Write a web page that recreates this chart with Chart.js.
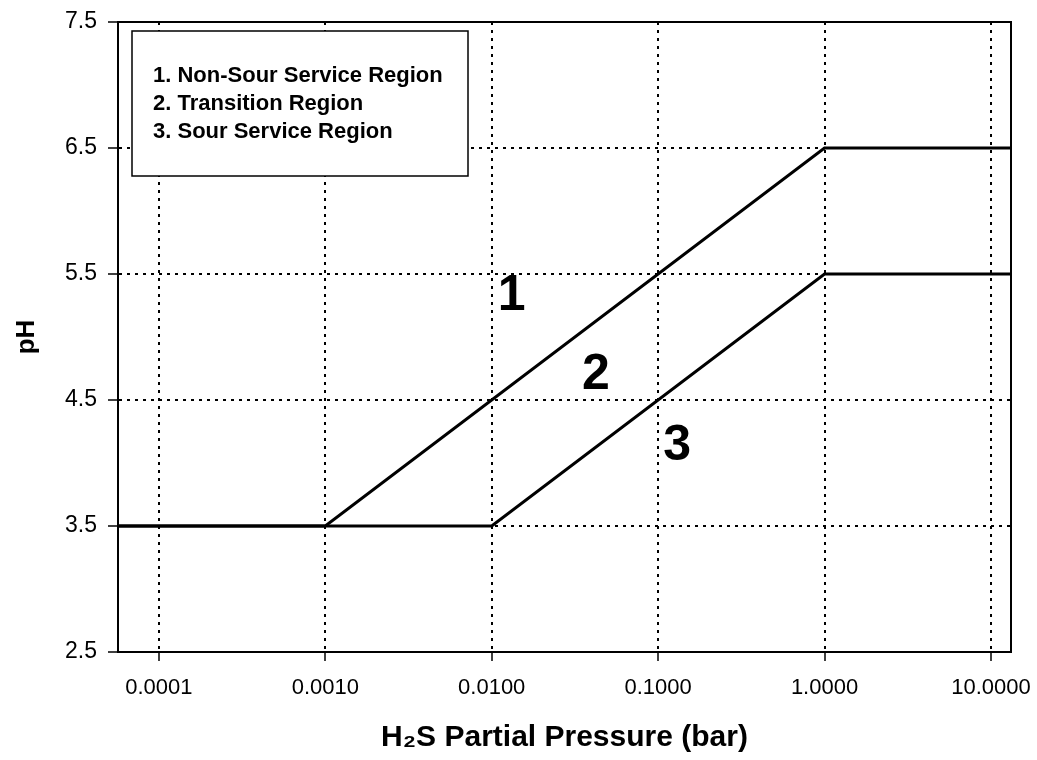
<!DOCTYPE html>
<html>
<head>
<meta charset="utf-8">
<script src="https://cdn.jsdelivr.net/npm/chart.js@4.4.1/dist/chart.umd.min.js"></script>
<style>
  html, body { margin: 0; padding: 0; background: #fff; }
  #wrap { width: 1037px; height: 760px; }
</style>
</head>
<body>
<div id="wrap"><canvas id="chart" width="1037" height="760"></canvas></div>
<script>
// axis range and ticks
const xMin = 0.0000568;
const xMax = 13.2;
const xTicks = [0.0001, 0.001, 0.01, 0.1, 1, 10];
const yTicks = [2.5, 3.5, 4.5, 5.5, 6.5, 7.5];

// boundary lines (H2S partial pressure in bar, pH)
const upperX = [xMin, 0.001, 1, xMax];
const upperY = [3.5, 3.5, 6.5, 6.5];
const lowerX = [xMin, 0.01, 1, xMax];
const lowerY = [3.5, 3.5, 5.5, 5.5];

// region labels
const regionNames = ["1. Non-Sour Service Region", "2. Transition Region", "3. Sour Service Region"];
const regionMarks = ["1", "2", "3"];
const regionMarkX = [0.0132, 0.0423, 0.130];
const regionMarkY = [5.32, 4.70, 4.13];

const FONT = "'Liberation Sans', Arial, sans-serif";

const toPoints = (xs, ys) => xs.map((x, i) => ({ x: x, y: ys[i] }));

const overlay = {
    id: "overlay",
    afterDraw(chart) {
        const ctx = chart.ctx;
        const a = chart.chartArea;
        const xs = chart.scales.x, ys = chart.scales.y;
        ctx.save();
        // frame top / right
        ctx.strokeStyle = "#000";
        ctx.lineWidth = 2;
        ctx.beginPath();
        ctx.moveTo(a.left, a.top);
        ctx.lineTo(a.right, a.top);
        ctx.lineTo(a.right, a.bottom);
        ctx.stroke();

        // legend box
        const bx = a.left + 14, by = a.top + 9, bw = 336, bh = 145;
        ctx.fillStyle = "#fff";
        ctx.fillRect(bx, by, bw, bh);
        ctx.lineWidth = 1.5;
        ctx.strokeRect(bx, by, bw, bh);
        ctx.fillStyle = "#000";
        ctx.font = "bold 22px " + FONT;
        ctx.textBaseline = "middle";
        ctx.textAlign = "left";
        regionNames.forEach((t, i) => ctx.fillText(t, bx + 21, by + 45 + i * 28));

        // numbers in the regions
        ctx.font = "bold 50px " + FONT;
        ctx.textAlign = "center";
        regionMarks.forEach((t, i) => {
            ctx.fillText(t, xs.getPixelForValue(regionMarkX[i]), ys.getPixelForValue(regionMarkY[i]));
        });
        ctx.restore();
    }
};

const lineStyle = {
    borderColor: "#000",
    borderWidth: 3,
    pointRadius: 0,
    showLine: true,
    fill: false,
    tension: 0
};

new Chart(document.getElementById("chart").getContext("2d"), {
    type: "scatter",
    data: {
        datasets: [
            Object.assign({ label: "upper", data: toPoints(upperX, upperY) }, lineStyle),
            Object.assign({ label: "lower", data: toPoints(lowerX, lowerY) }, lineStyle)
        ]
    },
    options: {
        responsive: false,
        animation: false,
        layout: { padding: { top: 22, right: 26, left: 0, bottom: 0 } },
        plugins: { legend: { display: false }, tooltip: { enabled: false } },
        scales: {
            x: {
                type: "logarithmic",
                min: xMin,
                max: xMax,
                afterBuildTicks: (s) => { s.ticks = xTicks.map(v => ({ value: v })); },
                afterFit: (s) => { s.height = 108; s.paddingLeft = 0; s.paddingRight = 0; },
                ticks: {
                    color: "#000",
                    autoSkip: false,
                    maxRotation: 0,
                    padding: 14,
                    font: { family: FONT, size: 22 },
                    callback: (v) => Number(v).toFixed(4)
                },
                grid: { color: "#000", lineWidth: 2, tickLength: 9, tickColor: "#000", tickWidth: 1.5 },
                border: { display: true, color: "#000", width: 2, dash: [3, 5] },
                title: {
                    display: true,
                    text: "H\u2082S Partial Pressure (bar)",
                    color: "#000",
                    font: { family: FONT, size: 30, weight: "bold" },
                    padding: { top: 10, bottom: 4 }
                }
            },
            y: {
                min: 2.5,
                max: 7.5,
                afterBuildTicks: (s) => { s.ticks = yTicks.map(v => ({ value: v })); },
                afterFit: (s) => { s.width = 118; s.paddingTop = 0; s.paddingBottom = 0; },
                ticks: {
                    color: "#000",
                    padding: 11,
                    font: { family: FONT, size: 23 },
                    callback: (v) => Number(v).toFixed(1)
                },
                grid: { color: "#000", lineWidth: 2, tickLength: 10, tickColor: "#000", tickWidth: 1.5 },
                border: { display: true, color: "#000", width: 2, dash: [3, 5] },
                title: {
                    display: true,
                    text: "pH",
                    color: "#000",
                    font: { family: FONT, size: 26, weight: "bold" },
                    padding: { top: 11, bottom: 11 }
                }
            }
        }
    },
    plugins: [overlay]
});
</script>
</body>
</html>
